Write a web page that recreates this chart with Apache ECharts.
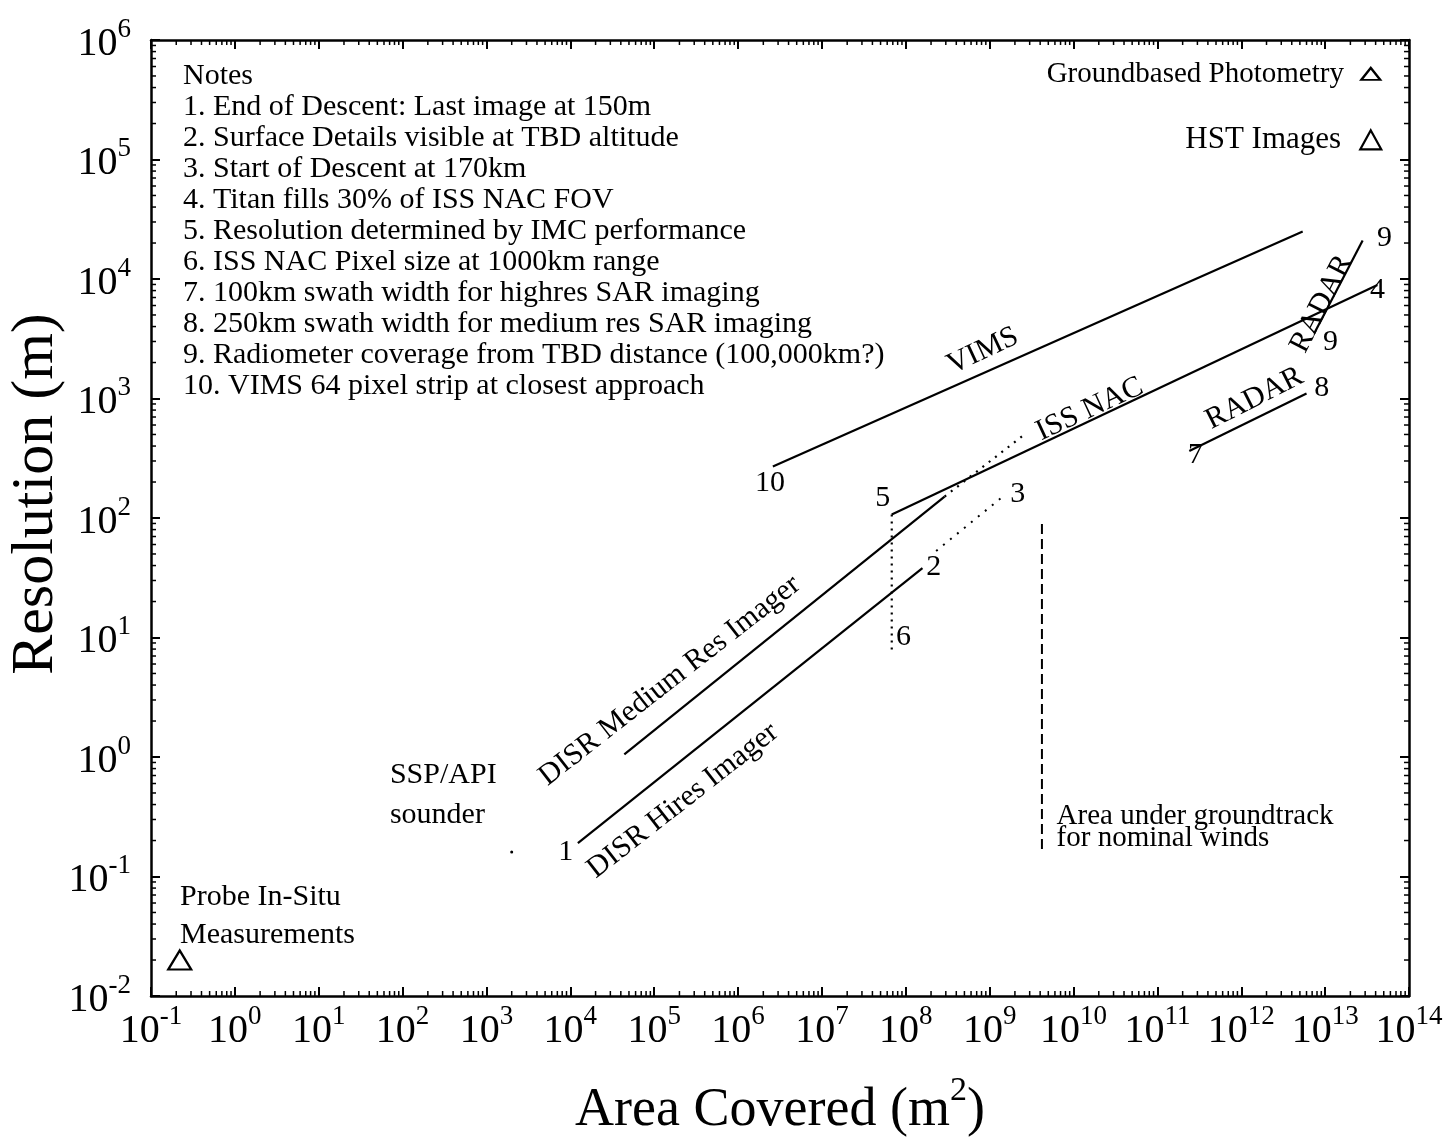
<!DOCTYPE html>
<html>
<head>
<meta charset="utf-8">
<script src="https://cdn.jsdelivr.net/npm/echarts@6/dist/echarts.min.js"></script>
<style>
  html, body { margin: 0; padding: 0; background: #fff; }
  #chart { width: 1451px; height: 1141px; }
</style>
</head>
<body>
<div id="chart"></div>
<script>
// Axis ranges (log10 scale)
const xRange = [1e-1, 1e14];
const yRange = [1e-2, 1e6];

// Instrument coverage lines: [area covered (m^2), resolution (m)]
const vims = [[2.6e6, 270], [5.4e12, 2.5e4]];
const issNac = [[6.8e7, 107], [4.2e13, 8.9e3]];
const disrMedium = [[4.4e4, 1.05], [2.9e8, 151]];
const disrMediumExt = [[2.9e8, 151], [2.6e9, 500]];
const disrHires = [[1.23e4, 0.19], [1.58e8, 38]];
const descentPath = [[2.3e8, 53], [1.5e9, 155]];
const nacPixel = [[6.8e7, 107], [6.8e7, 7.7]];
const radarSwath = [[2.4e11, 363], [6.0e12, 1.1e3]];
const radarRadiometer = [[7.4e12, 3.5e3], [2.8e13, 2.1e4]];
const windArea = [[4.2e9, 89], [4.2e9, 0.166]];

// Single observations
const probeInSitu = [[0.22, 0.02]];
const groundPhotometry = [[3.5e13, 5.2e5]];
const hstImages = [[3.5e13, 1.46e5]];
const sspSounder = [[2.0e3, 0.16]];

// Notes block
const notes = [
  'Notes',
  '1. End of Descent: Last image at 150m',
  '2. Surface Details visible at TBD altitude',
  '3. Start of Descent at 170km',
  '4. Titan fills 30% of ISS NAC FOV',
  '5. Resolution determined by IMC performance',
  '6. ISS NAC Pixel size at 1000km range',
  '7. 100km swath width for highres SAR imaging',
  '8. 250km swath width for medium res SAR imaging',
  '9. Radiometer coverage from TBD distance (100,000km?)',
  '10. VIMS 64 pixel strip at closest approach'
];

// Text annotations: [x, y, text, rotate (deg), align]
const annotations = [
  [2.4e6, 196, '10', 0, 'center'],
  [5.3e7, 147, '5', 0, 'center'],
  [2.16e9, 158, '3', 0, 'center'],
  [2.15e8, 39, '2', 0, 'center'],
  [9.4e7, 10.1, '6', 0, 'center'],
  [8.8e3, 0.16, '1', 0, 'center'],
  [5.1e13, 2.18e4, '9', 0, 'center'],
  [4.2e13, 8.0e3, '4', 0, 'center'],
  [1.16e13, 2.95e3, '9', 0, 'center'],
  [9.1e12, 1.22e3, '8', 0, 'center'],
  [2.85e11, 336, '7', 0, 'center'],
  [8.3e8, 2.5e3, 'VIMS', 25, 'center'],
  [1.56e10, 813, 'ISS NAC', 25, 'center'],
  [1.44e12, 1.0e3, 'RADAR', 27, 'center'],
  [9.1e12, 6.2e3, 'RADAR', 63, 'center'],
  [1.53e5, 4.35, 'DISR Medium Res Imager', 38, 'center'],
  [2.2e5, 0.43, 'DISR Hires Imager', 38, 'center'],
  [70.6, 0.70, 'SSP/API', 0, 'left'],
  [70.6, 0.325, 'sounder', 0, 'left'],
  [0.222, 0.0671, 'Probe In-Situ', 0, 'left'],
  [0.222, 0.0323, 'Measurements', 0, 'left'],
  [6.28e9, 0.318, 'Area under groundtrack', 0, 'left', 29],
  [6.28e9, 0.208, 'for nominal winds', 0, 'left', 29]
];

const FONT = 'Liberation Serif';

// minor tick values (2..9 x 10^k) for each decade
function minorValues(lo, hi) {
  const out = [];
  for (let e = Math.round(Math.log10(lo)); e < Math.round(Math.log10(hi)); e++) {
    for (let k = 2; k <= 9; k++) out.push(k * Math.pow(10, e));
  }
  return out;
}
const xMinor = minorValues(xRange[0], xRange[1]);
const yMinor = minorValues(yRange[0], yRange[1]);

function powLabel(v) {
  const e = Math.round(Math.log10(v));
  return '{b|10}{s|' + e + '}';
}
const tickRich = {
  b: { fontFamily: FONT, fontSize: 40, color: '#000', verticalAlign: 'bottom', lineHeight: 48 },
  s: { fontFamily: FONT, fontSize: 27, color: '#000', verticalAlign: 'top', lineHeight: 28 }
};

const axisLineStyle = { color: '#000', width: 2.5 };

function logAxis(extra, range) {
  return Object.assign({
    type: 'log',
    logBase: 10,
    min: range[0],
    max: range[1],
    interval: 1,
    splitLine: { show: false },
    axisLine: { show: true, lineStyle: axisLineStyle },
    axisTick: { show: true, inside: true, length: 9, lineStyle: { color: '#000', width: 2 } },
    axisLabel: { show: false }
  }, extra);
}

function lineSeries(name, data, type, width) {
  return {
    name: name,
    type: 'line',
    data: data,
    symbol: 'none',
    silent: true,
    lineStyle: { color: '#000', width: width || 2.2, type: type || 'solid' },
    z: 3
  };
}

function triangle(name, data, size, lbl) {
  return {
    name: name,
    type: 'scatter',
    data: data,
    symbol: 'triangle',
    symbolSize: size,
    itemStyle: { color: '#fff', borderColor: '#000', borderWidth: 2.2, opacity: 1 },
    label: lbl || { show: false },
    z: 4
  };
}

const chart = echarts.init(document.getElementById('chart'), null, { renderer: 'canvas' });

const option = {
  animation: false,
  backgroundColor: '#fff',
  grid: { left: 151, right: 42, top: 40, bottom: 145, containLabel: false },
  xAxis: [
    logAxis({
      position: 'bottom',
      axisLabel: { show: true, margin: 7, formatter: powLabel, rich: tickRich }
    }, xRange),
    logAxis({ position: 'top' }, xRange)
  ],
  yAxis: [
    logAxis({
      position: 'left',
      axisLabel: { show: true, margin: 20, formatter: powLabel, rich: tickRich }
    }, yRange),
    logAxis({ position: 'right' }, yRange)
  ],
  graphic: [
    {
      type: 'text',
      left: 183,
      top: 61,
      silent: true,
      style: {
        text: notes.join('\n'),
        font: '30px "' + FONT + '"',
        fill: '#000',
        lineHeight: 31
      }
    },
    {
      type: 'text',
      x: 36,
      y: 494,
      rotation: Math.PI / 2,
      silent: true,
      style: {
        text: 'Resolution (m)',
        font: '60px "' + FONT + '"',
        fill: '#000',
        align: 'center',
        verticalAlign: 'middle'
      }
    },
    {
      type: 'text',
      x: 780,
      y: 1106,
      silent: true,
      style: {
        text: '{t|Area Covered (m}{s|2}{t|)}',
        align: 'center',
        verticalAlign: 'middle',
        rich: {
          t: { fontFamily: FONT, fontSize: 54, color: '#000', verticalAlign: 'bottom', lineHeight: 64 },
          s: { fontFamily: FONT, fontSize: 34, color: '#000', verticalAlign: 'top', lineHeight: 36 }
        }
      }
    }
  ],
  series: [
    lineSeries('VIMS', vims),
    lineSeries('ISS NAC', issNac),
    lineSeries('DISR Medium Res Imager', disrMedium),
    lineSeries('DISR Medium Res Imager (extension)', disrMediumExt, [2, 6], 2.2),
    lineSeries('DISR Hires Imager', disrHires),
    lineSeries('Descent', descentPath, [2, 7], 2),
    lineSeries('ISS NAC pixel', nacPixel, [2, 5], 2.2),
    lineSeries('RADAR swath', radarSwath),
    lineSeries('RADAR radiometer', radarRadiometer),
    lineSeries('Groundtrack area', windArea, [10, 5], 2),
    triangle('Probe In-Situ', probeInSitu, [23, 19]),
    triangle('Groundbased Photometry', groundPhotometry, [19, 12], {
      show: true, position: 'left', distance: 16, formatter: 'Groundbased Photometry',
      fontFamily: FONT, fontSize: 29, color: '#000'
    }),
    triangle('HST Images', hstImages, [21, 19], {
      show: true, position: 'left', distance: 18, formatter: 'HST Images',
      fontFamily: FONT, fontSize: 31, color: '#000'
    }),
    {
      name: 'SSP/API sounder',
      type: 'scatter',
      data: sspSounder,
      symbol: 'circle',
      symbolSize: 3,
      itemStyle: { color: '#000', opacity: 1 },
      z: 4
    },
    {
      name: 'annotations',
      type: 'scatter',
      silent: true,
      symbolSize: 0,
      itemStyle: { color: '#000', opacity: 1 },
      data: annotations.map(a => ({
        value: [a[0], a[1]],
        name: a[2],
        label: { rotate: a[3], align: a[4], fontSize: a[5] || 30 }
      })),
      label: {
        show: true,
        position: 'inside',
        formatter: p => p.name,
        fontFamily: FONT,
        fontSize: 30,
        color: '#000',
        verticalAlign: 'middle'
      },
      z: 5
    },
    {
      name: 'x minor ticks',
      type: 'custom',
      coordinateSystem: 'cartesian2d',
      silent: true,
      data: xMinor.map(v => [v, 1]),
      renderItem: function (params, api) {
        const v = api.value(0);
        const b = api.coord([v, yRange[0]]);
        const t = api.coord([v, yRange[1]]);
        const st = { stroke: '#000', lineWidth: 1.5 };
        return {
          type: 'group',
          children: [
            { type: 'line', shape: { x1: b[0], y1: b[1], x2: b[0], y2: b[1] - 5 }, style: st },
            { type: 'line', shape: { x1: t[0], y1: t[1], x2: t[0], y2: t[1] + 5 }, style: st }
          ]
        };
      }
    },
    {
      name: 'y minor ticks',
      type: 'custom',
      coordinateSystem: 'cartesian2d',
      silent: true,
      data: yMinor.map(v => [1, v]),
      renderItem: function (params, api) {
        const v = api.value(1);
        const l = api.coord([xRange[0], v]);
        const r = api.coord([xRange[1], v]);
        const st = { stroke: '#000', lineWidth: 1.5 };
        return {
          type: 'group',
          children: [
            { type: 'line', shape: { x1: l[0], y1: l[1], x2: l[0] + 5, y2: l[1] }, style: st },
            { type: 'line', shape: { x1: r[0], y1: r[1], x2: r[0] - 5, y2: r[1] }, style: st }
          ]
        };
      }
    }
  ]
};

chart.setOption(option);
</script>
</body>
</html>
